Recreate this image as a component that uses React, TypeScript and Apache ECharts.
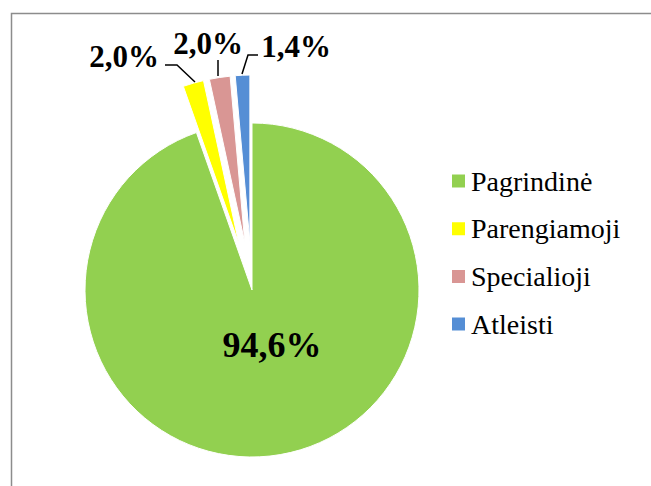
import React, { useEffect, useRef } from "react";
import * as echarts from "echarts";

const categories = ["Pagrindinė", "Parengiamoji", "Specialioji", "Atleisti"];
const values = [94.6, 2.0, 2.0, 1.4];
const colors = ["#92D050", "#FFFF00", "#D99694", "#558ED5"];
const exploded = [false, true, true, true];

const FONT = "'Liberation Serif', 'Times New Roman', serif";

// label placement (layout only, not data)
const labelSpots: { x: number; y: number; points: number[][] | null }[] = [
  { x: 272, y: 345, points: null },
  { x: 124, y: 56, points: [[195, 82], [177, 65], [165, 65]] },
  { x: 208, y: 43, points: [[218, 76], [218, 60]] },
  { x: 296, y: 46, points: [[242, 74], [248, 55], [258, 55]] },
];

const fmt = (v: number) => v.toFixed(1).replace(".", ",") + "%";

export default function App() {
  const ref = useRef<HTMLDivElement>(null);
  useEffect(() => {
    if (!ref.current) return;
    const chart = echarts.init(ref.current, undefined, { renderer: "svg" });

    const outsideLabels: any[] = [];
    values.forEach((v, i) => {
      const s = labelSpots[i];
      if (!s.points) return;
      outsideLabels.push({
        type: "polyline",
        shape: { points: s.points },
        style: { stroke: "#000000", lineWidth: 1.5, fill: "none" },
        silent: true,
        z: 50,
      });
      outsideLabels.push({
        type: "text",
        x: s.x,
        y: s.y,
        style: {
          text: fmt(v),
          fontFamily: FONT,
          fontWeight: "bold",
          fontSize: 31,
          fill: "#000000",
          textAlign: "center",
          textVerticalAlign: "middle",
        },
        silent: true,
        z: 50,
      });
    });

    chart.setOption({
      animation: false,
      backgroundColor: "#ffffff",
      graphic: [
        {
          type: "rect",
          shape: { x: 11.5, y: 13.5, width: 700, height: 520 },
          style: { fill: "none", stroke: "#8c8c8c", lineWidth: 1.5 },
          silent: true,
          z: 100,
        },
        ...outsideLabels,
      ],
      legend: {
        orient: "vertical",
        left: 445,
        top: 162,
        padding: 5,
        itemWidth: 15,
        itemHeight: 15,
        itemGap: 19.7,
        icon: "rect",
        selectedMode: false,
        data: categories,
        textStyle: {
          fontFamily: FONT,
          fontSize: 28,
          lineHeight: 28,
          color: "#000000",
        },
      },
      series: [
        {
          type: "pie",
          center: [252, 290],
          radius: 167,
          startAngle: 90,
          clockwise: true,
          selectedMode: "multiple",
          selectedOffset: 48,
          avoidLabelOverlap: false,
          emphasis: { disabled: true },
          itemStyle: { borderColor: "#ffffff", borderWidth: 1 },
          label: {
            show: false,
            position: "inside",
            fontFamily: FONT,
            fontWeight: "bold",
            fontSize: 36,
            color: "#000000",
            formatter: (p: any) => fmt(p.value),
          },
          labelLine: { show: false },
          labelLayout: (params: any) => {
            const s = labelSpots[params.dataIndex];
            return { x: s.x, y: s.y, align: "center", verticalAlign: "middle" };
          },
          data: categories.map((name, i) => ({
            name,
            value: values[i],
            selected: exploded[i],
            itemStyle: { color: colors[i] },
            label: i === 0 ? { show: true } : { show: false },
          })),
        },
      ],
    });
    return () => chart.dispose();
  }, []);
  return (
    <div
      ref={ref}
      style={{ position: "fixed", left: 0, top: 0, width: 651, height: 486 }}
    />
  );
}
